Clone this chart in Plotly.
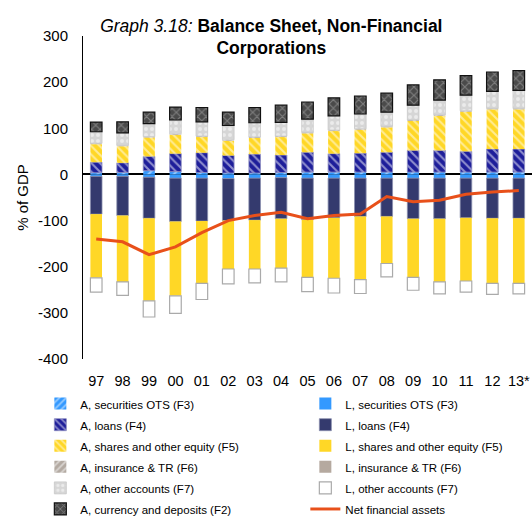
import plotly.graph_objects as go

years = ["97", "98", "99", "00", "01", "02", "03", "04", "05", "06",
         "07", "08", "09", "10", "11", "12", "13*"]
y_ticks = [300, 200, 100, 0, -100, -200, -300, -400]
y_labels = ["300", "200", "100", "0", "-100", "-200", "-300", "-400"]

# assets (% of GDP)
a_securities = [3.5, 4, 8, 6, 4, 3, 3, 4, 5, 5, 5, 5, 5, 5, 5, 5, 5]
a_loans = [23, 21, 31, 39, 43, 38, 41, 38, 43, 40, 41, 43, 47, 47, 45, 50, 50]
a_shares = [39, 36, 41, 41, 34, 32, 35, 39, 41, 49, 51, 54, 64, 75, 86, 86, 86]
a_insurance = [2, 2, 2, 2, 2, 2, 2, 2, 2, 2, 2, 2, 2, 2, 2, 2, 2]
a_other = [25, 27, 28, 30, 31, 31, 31, 30, 29, 31, 32, 31, 32, 32, 34, 37, 39]
a_currency = [21, 24, 25, 28, 31, 29, 33, 37, 37, 39, 39, 41, 44, 44, 42, 42, 43]

# liabilities (% of GDP)
l_securities = [-4, -4, -6, -8, -8, -9, -8, -7, -8, -8, -8, -8, -8, -8, -8, -8, -8]
l_loans = [-82, -85, -89, -94, -93, -91, -91, -89, -90, -86, -83, -83, -88, -88, -86, -87, -87]
l_shares = [-138, -144, -179, -161, -135, -105, -106, -107, -125, -131, -137, -102,
            -127, -137, -137, -141, -141]
l_insurance = [0] * 17
l_other = [-31, -29, -35, -38, -35, -32, -30, -30, -31, -32, -30, -29, -28, -26, -24, -24, -23]

net_assets = [-140, -146, -174, -157, -126, -100, -89, -82, -96, -89, -86, -48,
              -59, -56, -43, -38, -35]


def label(name):
    # smaller text inside a taller legend row
    return '<span style="font-size:11.5px">' + name + '</span>'


def bar(name, values, color, pattern=None, fg="white", line="rgba(0,0,0,0)", lw=0.8):
    marker = dict(color=color, line=dict(color=line, width=lw))
    if pattern:
        marker["pattern"] = dict(shape=pattern, fgcolor=fg, bgcolor=color,
                                 size=6, solidity=0.35)
    return go.Bar(x=years, y=values, name=label(name), marker=marker)


fig = go.Figure()
fig.add_trace(bar("A, securities OTS (F3)", a_securities, "#3399FF", "/"))
fig.add_trace(bar("L, securities OTS (F3)", l_securities, "#3399FF"))
fig.add_trace(bar("A, loans (F4)", a_loans, "#1E1E9A", "\\", line="#8C8CC0"))
fig.add_trace(bar("L, loans (F4)", l_loans, "#343A6E", line="#8A8FAE"))
fig.add_trace(bar("A, shares and other equity (F5)", a_shares, "#FFD726", "\\"))
fig.add_trace(bar("L, shares and other equity (F5)", l_shares, "#FFD726"))
fig.add_trace(bar("A, insurance & TR (F6)", a_insurance, "#B3AAA2", "/"))
fig.add_trace(bar("L, insurance & TR (F6)", l_insurance, "#B5A99F", lw=0))
fig.add_trace(bar("A, other accounts (F7)", a_other, "#D6D6D6", ".", fg="#FFFFFF",
                  line="#C8C8C8"))
fig.add_trace(bar("L, other accounts (F7)", l_other, "#FFFFFF", line="#AAAAAA", lw=1.2))
fig.add_trace(bar("A, currency and deposits (F2)", a_currency, "#4A4A4A", "x",
                  fg="#B0B0B0", line="#111111", lw=1.2))
fig.add_trace(go.Scatter(x=years, y=net_assets, name=label("Net financial assets"),
                         mode="lines", line=dict(color="#E8501A", width=3)))

fig.update_layout(
    width=532, height=517,
    barmode="relative",
    bargap=0.56,
    plot_bgcolor="white",
    paper_bgcolor="white",
    font=dict(family="Liberation Sans, Arial", color="black"),
    margin=dict(l=83, r=0, t=36, b=158, autoexpand=False),
    title=dict(
        text="<i>Graph 3.18:</i> <b>Balance Sheet, Non-Financial<br>Corporations</b>",
        x=0.51, xanchor="center", y=0.939, yanchor="top",
        font=dict(size=17.5),
    ),
    showlegend=True,
    legend=dict(
        orientation="h", x=-0.095, xanchor="left", y=-0.09, yanchor="top",
        entrywidth=220, entrywidthmode="pixels",
        font=dict(size=13.9), traceorder="normal",
    ),
)
fig.update_xaxes(showline=False, ticks="", tickfont=dict(size=14.5),
                 ticklabelstandoff=11)
fig.update_yaxes(range=[-400, 300], tickvals=y_ticks, ticktext=y_labels, showgrid=False,
                 showline=True, linecolor="black", linewidth=1,
                 zeroline=True, zerolinecolor="black", zerolinewidth=1.5,
                 ticks="", tickfont=dict(size=15), ticklabelstandoff=11,
                 title=dict(text="% of GDP", font=dict(size=15), standoff=5))

# page body has a default 8px margin
fig.write_html("out.html", config={"displayModeBar": False},
               post_script="document.body.style.margin='0';")
